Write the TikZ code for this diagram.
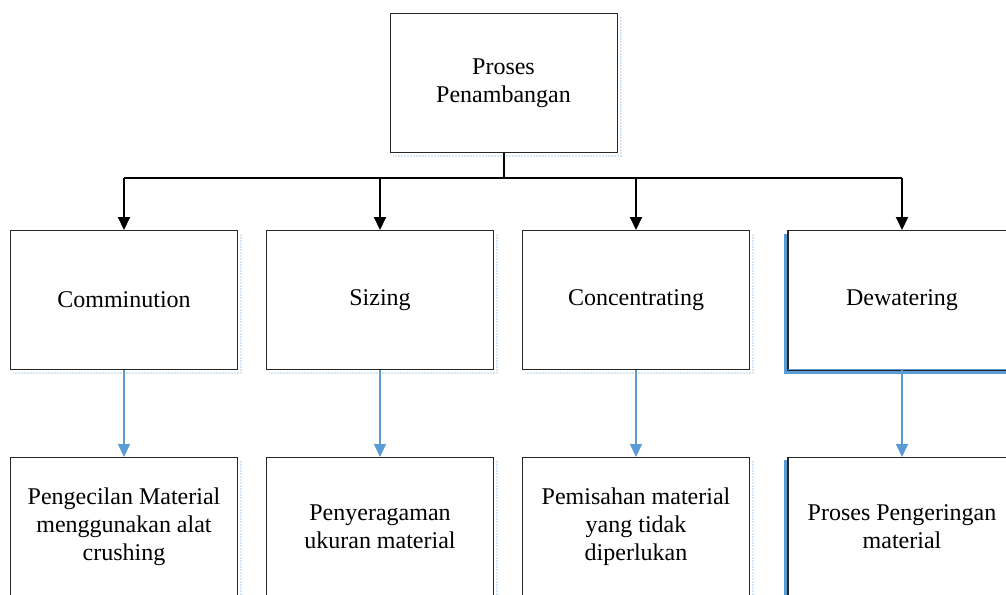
\documentclass[tikz,border=0pt]{standalone}
\usepackage{fontspec}
\setmainfont{Liberation Serif}
\usetikzlibrary{arrows.meta, positioning}
\definecolor{biru}{RGB}{91,155,213}
\tikzset{
  kotak/.style={draw=black!85, line width=1pt, minimum width=227pt, minimum height=139pt,
    inner sep=0pt, align=center, font=\fontsize{24}{28}\selectfont},
  panahhitam/.style={line width=2pt, -{Triangle[width=12pt,length=13pt]}},
  panahbiru/.style={draw=biru, line width=1.5pt, -{Triangle[width=12pt,length=13pt,fill=biru]}},
  bayangan/.style={draw=biru!25, densely dotted, line width=2pt},
}
\begin{document}
\begin{tikzpicture}[x=1pt,y=-1pt]
\useasboundingbox (0,0) rectangle (1006,594);

% kotak utama
\node[kotak] (proses) at (503.5,83) {Proses\\Penambangan};
\coordinate (cabang) at (503.5,178);

% baris tengah
\node[kotak] (komi) at (124,300) {Comminution};
\node[kotak] (sizing) at (380,300) {Sizing};
\node[kotak] (konsen) at (636,300) {Concentrating};
\node[kotak, minimum width=228pt] (dewat) at (902,300) {Dewatering};

% baris bawah
\node[kotak] (kecil) at (124,527) {Pengecilan Material\\menggunakan alat\\crushing};
\node[kotak] (seragam) at (380,527) {Penyeragaman\\ukuran material};
\node[kotak] (pisah) at (636,527) {Pemisahan material\\yang tidak\\diperlukan};
\node[kotak, minimum width=228pt] (kering) at (902,527) {Proses Pengeringan\\material};

% bayangan biru
\draw[biru, line width=4.5pt] ([xshift=-1.6pt,yshift=-4pt]dewat.north west)
  -- ([xshift=-1.6pt,yshift=-1.6pt]dewat.south west) -- ([yshift=-1.6pt]dewat.south east);
\draw[biru, line width=4.5pt] ([xshift=-1.6pt,yshift=-3pt]kering.north west) -- ([xshift=-1.6pt]kering.south west);
\draw[black!85, line width=1pt] (dewat.north west) -- (dewat.south west) -- (dewat.south east);
\draw[black!85, line width=1pt] (kering.north west) -- (kering.south west);

% bayangan tipis
\foreach \n in {proses,komi,sizing,konsen}
  \draw[bayangan] ([xshift=3pt,yshift=-4pt]\n.north east) -- ([xshift=3pt,yshift=-3pt]\n.south east)
    -- ([xshift=3pt,yshift=-3pt]\n.south west);
\foreach \n in {kecil,seragam,pisah}
  \draw[bayangan] ([xshift=3pt,yshift=-4pt]\n.north east) -- ([xshift=3pt]\n.south east);

% garis penghubung
\draw[line width=2pt] (proses.south) -- (cabang);
\draw[line width=2pt] (cabang -| komi.north) -- (cabang -| dewat.north);
\foreach \n in {komi,sizing,konsen,dewat}
  \draw[panahhitam] (cabang -| \n.north) -- (\n.north);

\draw[panahbiru] (komi.south) -- (kecil.north);
\draw[panahbiru] (sizing.south) -- (seragam.north);
\draw[panahbiru] (konsen.south) -- (pisah.north);
\draw[panahbiru] (dewat.south) -- (kering.north);

\end{tikzpicture}
\end{document}
